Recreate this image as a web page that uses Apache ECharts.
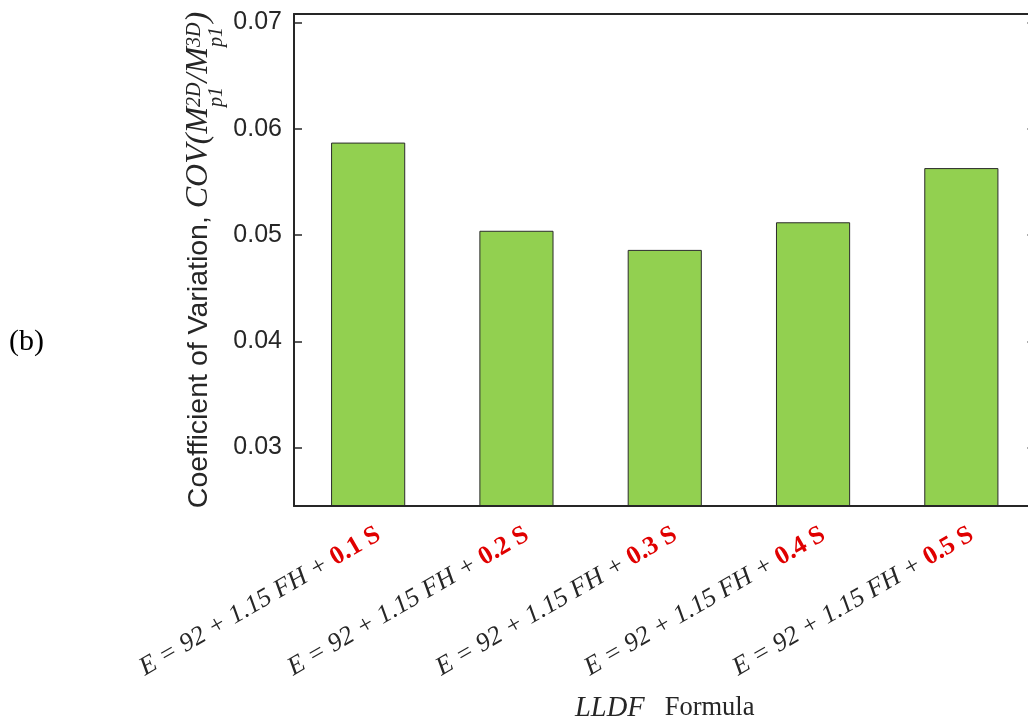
<!DOCTYPE html>
<html><head><meta charset="utf-8">
<script src="https://cdn.jsdelivr.net/npm/echarts@6/dist/echarts.min.js"></script>
<style>html,body{margin:0;padding:0;background:#fff}#c{width:1028px;height:726px}</style>
</head><body><div id="c"></div>
<script>
// ---- data ----
const formulaBase = 'E = 92 + 1.15 FH + ';
const coefficients = ['0.1 S', '0.2 S', '0.3 S', '0.4 S', '0.5 S'];
const covValues = [0.0587, 0.0504, 0.0486, 0.0512, 0.0563];
const yTicks = [0.03, 0.04, 0.05, 0.06, 0.07];
const yTickLabels = ['0.03', '0.04', '0.05', '0.06', '0.07'];
const yMin = 0.0245;
const yMax = 0.0708;

const categories = coefficients.map(c => formulaBase + c);
const axisColor = '#262626';
const serif = 'Liberation Serif';
const sans = 'Liberation Sans';

const chart = echarts.init(document.getElementById('c'), null, {renderer: 'canvas'});
chart.setOption({
  animation: false,
  backgroundColor: '#fff',
  grid: {left: 294, top: 14, width: 741.5, height: 492, containLabel: false, outerBoundsMode: 'none'},
  xAxis: [{
    type: 'category',
    data: categories,
    position: 'bottom',
    z: 10,
    axisLine: {lineStyle: {color: axisColor, width: 2}},
    axisTick: {inside: true, alignWithLabel: true, length: 8, lineStyle: {color: axisColor, width: 1.5}},
    axisLabel: {
      interval: 0,
      rotate: 30,
      margin: 33,
      padding: [0, -12, 0, 0],
      formatter: (v, i) => '{base|' + formulaBase + '}{coef|' + coefficients[i] + '}',
      rich: {
        base: {fontFamily: serif, fontStyle: 'italic', fontSize: 26, color: axisColor},
        coef: {fontFamily: serif, fontWeight: 'bold', fontSize: 26, color: '#e00000'}
      }
    },
    name: '{i|LLDF}{n|Formula}',
    nameLocation: 'middle',
    nameGap: 188,
    nameMoveOverlap: false,
    nameTextStyle: {
      rich: {
        i: {fontFamily: serif, fontStyle: 'italic', fontSize: 28.5, color: axisColor, padding: [0, 20, 0, 0]},
        n: {fontFamily: serif, fontSize: 26.5, color: axisColor}
      }
    },
    splitLine: {show: false}
  }, {
    type: 'category',
    data: categories,
    position: 'top',
    z: 10,
    axisLine: {lineStyle: {color: axisColor, width: 2}},
    axisTick: {inside: true, alignWithLabel: true, length: 8, lineStyle: {color: axisColor, width: 1.5}},
    axisLabel: {show: false},
    splitLine: {show: false}
  }],
  yAxis: [{
    type: 'value',
    min: yMin,
    max: yMax,
    position: 'left',
    z: 10,
    axisLine: {show: true, lineStyle: {color: axisColor, width: 2}},
    axisTick: {show: true, inside: true, length: 8, customValues: yTicks, lineStyle: {color: axisColor, width: 1.5}},
    axisLabel: {
      customValues: yTicks,
      margin: 12,
      fontFamily: sans,
      fontSize: 25,
      color: axisColor,
      formatter: v => yTickLabels[yTicks.findIndex(t => Math.abs(t - v) < 1e-9)] ?? ''
    },
    splitLine: {show: false},
    name: '{a|Coefficient of Variation, }{b|COV(M}{sub|p1}{sup|2D}{b|/M}{sub|p1}{sup|3D}{b|)}',
    nameLocation: 'middle',
    nameRotate: 90,
    nameGap: 67,
    nameMoveOverlap: false,
    nameTextStyle: {
      rich: {
        a: {fontFamily: sans, fontSize: 28.5, color: axisColor},
        b: {fontFamily: serif, fontStyle: 'italic', fontSize: 32, color: axisColor},
        sub: {fontFamily: serif, fontStyle: 'italic', fontSize: 20, color: axisColor, padding: [36, 0, 0, 0]},
        sup: {fontFamily: serif, fontStyle: 'italic', fontSize: 20, color: axisColor, padding: [0, 0, 8, -20]}
      }
    }
  }, {
    type: 'value',
    min: yMin,
    max: yMax,
    position: 'right',
    z: 10,
    axisLine: {show: true, lineStyle: {color: axisColor, width: 2}},
    axisTick: {show: true, inside: true, length: 8, customValues: yTicks, lineStyle: {color: axisColor, width: 1.5}},
    axisLabel: {show: false},
    splitLine: {show: false}
  }],
  series: [{
    type: 'bar',
    xAxisIndex: 0,
    yAxisIndex: 0,
    data: covValues,
    barCategoryGap: '50%',
    itemStyle: {color: '#92d050', borderColor: '#2b2b2b', borderWidth: 1}
  }],
  graphic: [{
    type: 'text',
    left: 9,
    top: 327,
    style: {text: '(b)', font: '30px "Liberation Serif"', fill: '#000'}
  }]
});
</script>
</body></html>
